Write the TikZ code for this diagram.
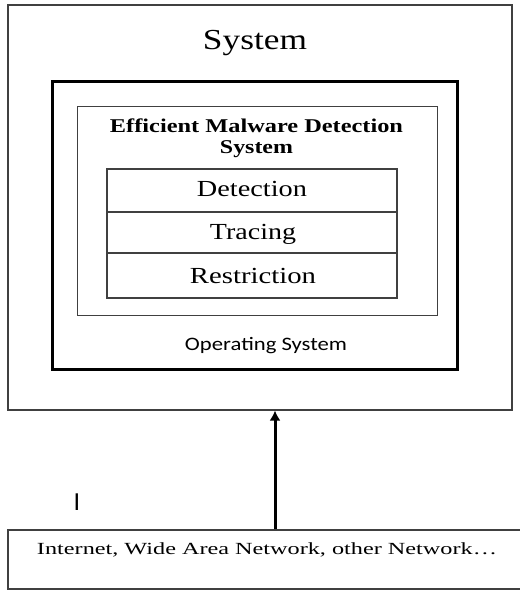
\documentclass[tikz,border=0pt]{standalone}
\usepackage{fontspec}
\usepackage{graphicx}
\setmainfont{Liberation Serif}
\newfontfamily\calfont{Carlito}
\usetikzlibrary{arrows.meta}
\newcommand\fitw[2]{\resizebox{#1}{\height}{#2}}
\tikzset{
  thinbox/.style={draw=black!75, line width=1.1pt, inner sep=0pt, fill=none},
  thickbox/.style={draw=black, line width=3pt, inner sep=0pt},
  lbl/.style={inner sep=0pt, anchor=base, text=black},
  uparrow/.style={line width=3pt, -{Latex[length=10pt,width=11pt]}}
}
\begin{document}
\begin{tikzpicture}[x=1pt,y=-1pt]
\fill[white] (0,0) rectangle (520,590);
\useasboundingbox (0,0) rectangle (520,590);
% boxes
\node[thinbox, minimum width=504pt, minimum height=405pt] (sys) at (260,207.5) {};
\node[thickbox, minimum width=405pt, minimum height=288pt] (os) at (254.5,225) {};
\node[thinbox, line width=1pt, minimum width=360pt, minimum height=209pt] (emds) at (257,210.5) {};
\node[thinbox, minimum width=290pt, minimum height=43pt] (det) at (252,190.5) {};
\node[thinbox, minimum width=290pt, minimum height=41pt] (tra) at (252,232.5) {};
\node[thinbox, minimum width=290pt, minimum height=45pt] (res) at (252,275.5) {};
\node[thinbox, minimum width=520pt, minimum height=59pt] (net) at (268,559.5) {};
% texts
\node[lbl] (systitle) at (255,49.5) {\fontsize{29}{34}\selectfont\fitw{104pt}{System}};
\node[lbl] (emdstitle1) at (256.5,132.5) {\fontsize{19.5}{22}\selectfont\bfseries\fitw{293pt}{Efficient Malware Detection}};
\node[lbl] (emdstitle2) at (256.5,153.5) {\fontsize{19.5}{22}\selectfont\bfseries\fitw{73pt}{System}};
\node[lbl] (dettxt) at (252,196) {\fontsize{23}{27}\selectfont\fitw{110pt}{Detection}};
\node[lbl] (tratxt) at (253,239.5) {\fontsize{23}{27}\selectfont\fitw{86pt}{Tracing}};
\node[lbl] (restxt) at (253,283) {\fontsize{23}{27}\selectfont\fitw{126pt}{Restriction}};
\node[lbl] (ostxt) at (266,350) {\calfont\fontsize{19}{22}\selectfont\fitw{162pt}{Operating System}};
\node[lbl] (nettxt) at (267,554) {\fontsize{17}{20}\selectfont\fitw{460pt}{Internet, Wide Area Network, other Network\ldots}};
\node[lbl] (cursor) at (77,510) {\calfont\fontsize{26}{30}\selectfont I};
% arrow
\coordinate (ax) at (275,0);
\draw[uparrow] (ax |- net.north) -- (ax |- sys.south);
\end{tikzpicture}
\end{document}
